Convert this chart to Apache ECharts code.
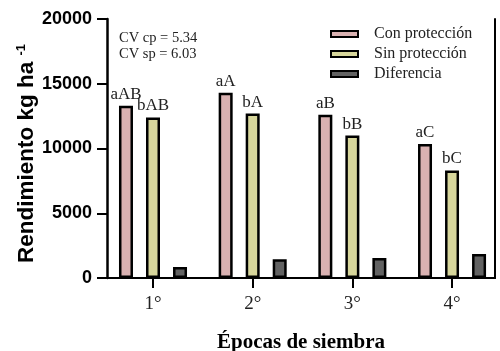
<!DOCTYPE html>
<html>
<head>
<meta charset="utf-8">
<script src="https://cdn.jsdelivr.net/npm/echarts@6/dist/echarts.min.js"></script>
<style>html,body{margin:0;padding:0;background:#fff;}#c{width:500px;height:351px;}</style>
</head>
<body>
<div id="c"></div>
<script>
var positions = [1, 2, 3, 4];
var tickLabels = ['1°', '2°', '3°', '4°'];
var conProteccion = [13300, 14300, 12600, 10350];
var sinProteccion = [12400, 12700, 11000, 8300];
var diferencia = [850, 1450, 1550, 1850];
var conLetters = ['aAB', 'aA', 'aB', 'aC'];
var sinLetters = ['bAB', 'bA', 'bB', 'bC'];
var yTicks = [0, 5000, 10000, 15000, 20000];
var cvLines = ['CV cp = 5.34', 'CV sp = 6.03'];

var SERIF = 'Liberation Serif';
var SANS = 'Liberation Sans';

function pairs(vals) { return positions.map(function (p, i) { return [p, vals[i]]; }); }

var chart = echarts.init(document.getElementById('c'), null, { renderer: 'canvas' });
var barBase = {
  type: 'bar', barWidth: 14, barGap: '93%',
  emphasis: { disabled: true }
};
var option = {
  animation: false,
  backgroundColor: '#fff',
  grid: { left: 107, right: 5, top: 19, bottom: 73, containLabel: false, outerBoundsMode: 'none' },
  title: {
    text: cvLines.join('\n'), left: 119, top: 30, padding: 0,
    textStyle: { fontFamily: SERIF, fontWeight: 'normal', fontSize: 14.5, lineHeight: 16, color: '#222' }
  },
  legend: {
    orient: 'vertical', left: 330, top: 26, padding: 0, itemGap: 4,
    itemWidth: 27, itemHeight: 6, icon: 'rect',
    textStyle: { fontFamily: SERIF, fontSize: 16, lineHeight: 16, color: '#222', padding: [0, 0, 0, 11] },
    data: ['Con protección', 'Sin protección', 'Diferencia']
  },
  xAxis: [{
    type: 'value', min: 0.5385, max: 4.431,
    splitLine: { show: false },
    axisLine: { show: true, lineStyle: { color: '#000', width: 2 } },
    axisTick: { show: true, customValues: positions, length: 10, lineStyle: { color: '#000', width: 2 } },
    axisLabel: {
      customValues: positions, margin: 17,
      formatter: function (v) { return tickLabels[positions.indexOf(Math.round(v))] || ''; },
      fontFamily: SERIF, fontSize: 19, color: '#222'
    },
    name: 'Épocas de siembra', nameLocation: 'middle', nameGap: 54, nameMoveOverlap: false,
    nameTextStyle: { fontFamily: SERIF, fontWeight: 'bold', fontSize: 21, color: '#000' }
  }, {
    type: 'value', position: 'top', min: 0, max: 1,
    splitLine: { show: false }, axisTick: { show: false }, axisLabel: { show: false },
    axisLine: { show: true, lineStyle: { color: '#000', width: 2 } }
  }],
  yAxis: [{
    type: 'value', min: 0, max: 20000, interval: 5000,
    splitLine: { show: false },
    axisLine: { show: true, lineStyle: { color: '#000', width: 2.5 } },
    axisTick: { show: true, length: 10, lineStyle: { color: '#000', width: 2 } },
    axisLabel: { margin: 15, fontFamily: SANS, fontWeight: 'bold', fontSize: 18, color: '#000',
      formatter: function (v) { return String(v); } },
    name: '{a|Rendimiento kg ha }{b|-1}', nameLocation: 'middle', nameGap: 69, nameRotate: 90,
    nameMoveOverlap: false,
    nameTextStyle: {
      rich: {
        a: { fontFamily: SANS, fontWeight: 'bold', fontSize: 22.5, color: '#000' },
        b: { fontFamily: SANS, fontWeight: 'bold', fontSize: 13, color: '#000', verticalAlign: 'top', padding: [0, 10, 10, 0] }
      }
    }
  }, {
    type: 'value', position: 'right', min: 0, max: 1,
    splitLine: { show: false }, axisTick: { show: false }, axisLabel: { show: false },
    axisLine: { show: true, lineStyle: { color: '#000', width: 2 } }
  }],
  series: [
    Object.assign({}, barBase, {
      name: 'Con protección', data: pairs(conProteccion),
      itemStyle: { color: '#d9b1b1', borderColor: '#000', borderWidth: 2.5 },
      label: { show: true, position: 'top', distance: 3, fontFamily: SERIF, fontSize: 17, color: '#222',
        formatter: function (p) { return conLetters[p.dataIndex]; } }
    }),
    Object.assign({}, barBase, {
      name: 'Sin protección', data: pairs(sinProteccion),
      itemStyle: { color: '#d7d69b', borderColor: '#000', borderWidth: 2.5 },
      label: { show: true, position: 'top', distance: 3, fontFamily: SERIF, fontSize: 17, color: '#222',
        formatter: function (p) { return sinLetters[p.dataIndex]; } }
    }),
    Object.assign({}, barBase, {
      name: 'Diferencia', data: pairs(diferencia),
      itemStyle: { color: '#626262', borderColor: '#000', borderWidth: 2.5 }
    })
  ]
};
chart.setOption(option);
</script>
</body>
</html>
